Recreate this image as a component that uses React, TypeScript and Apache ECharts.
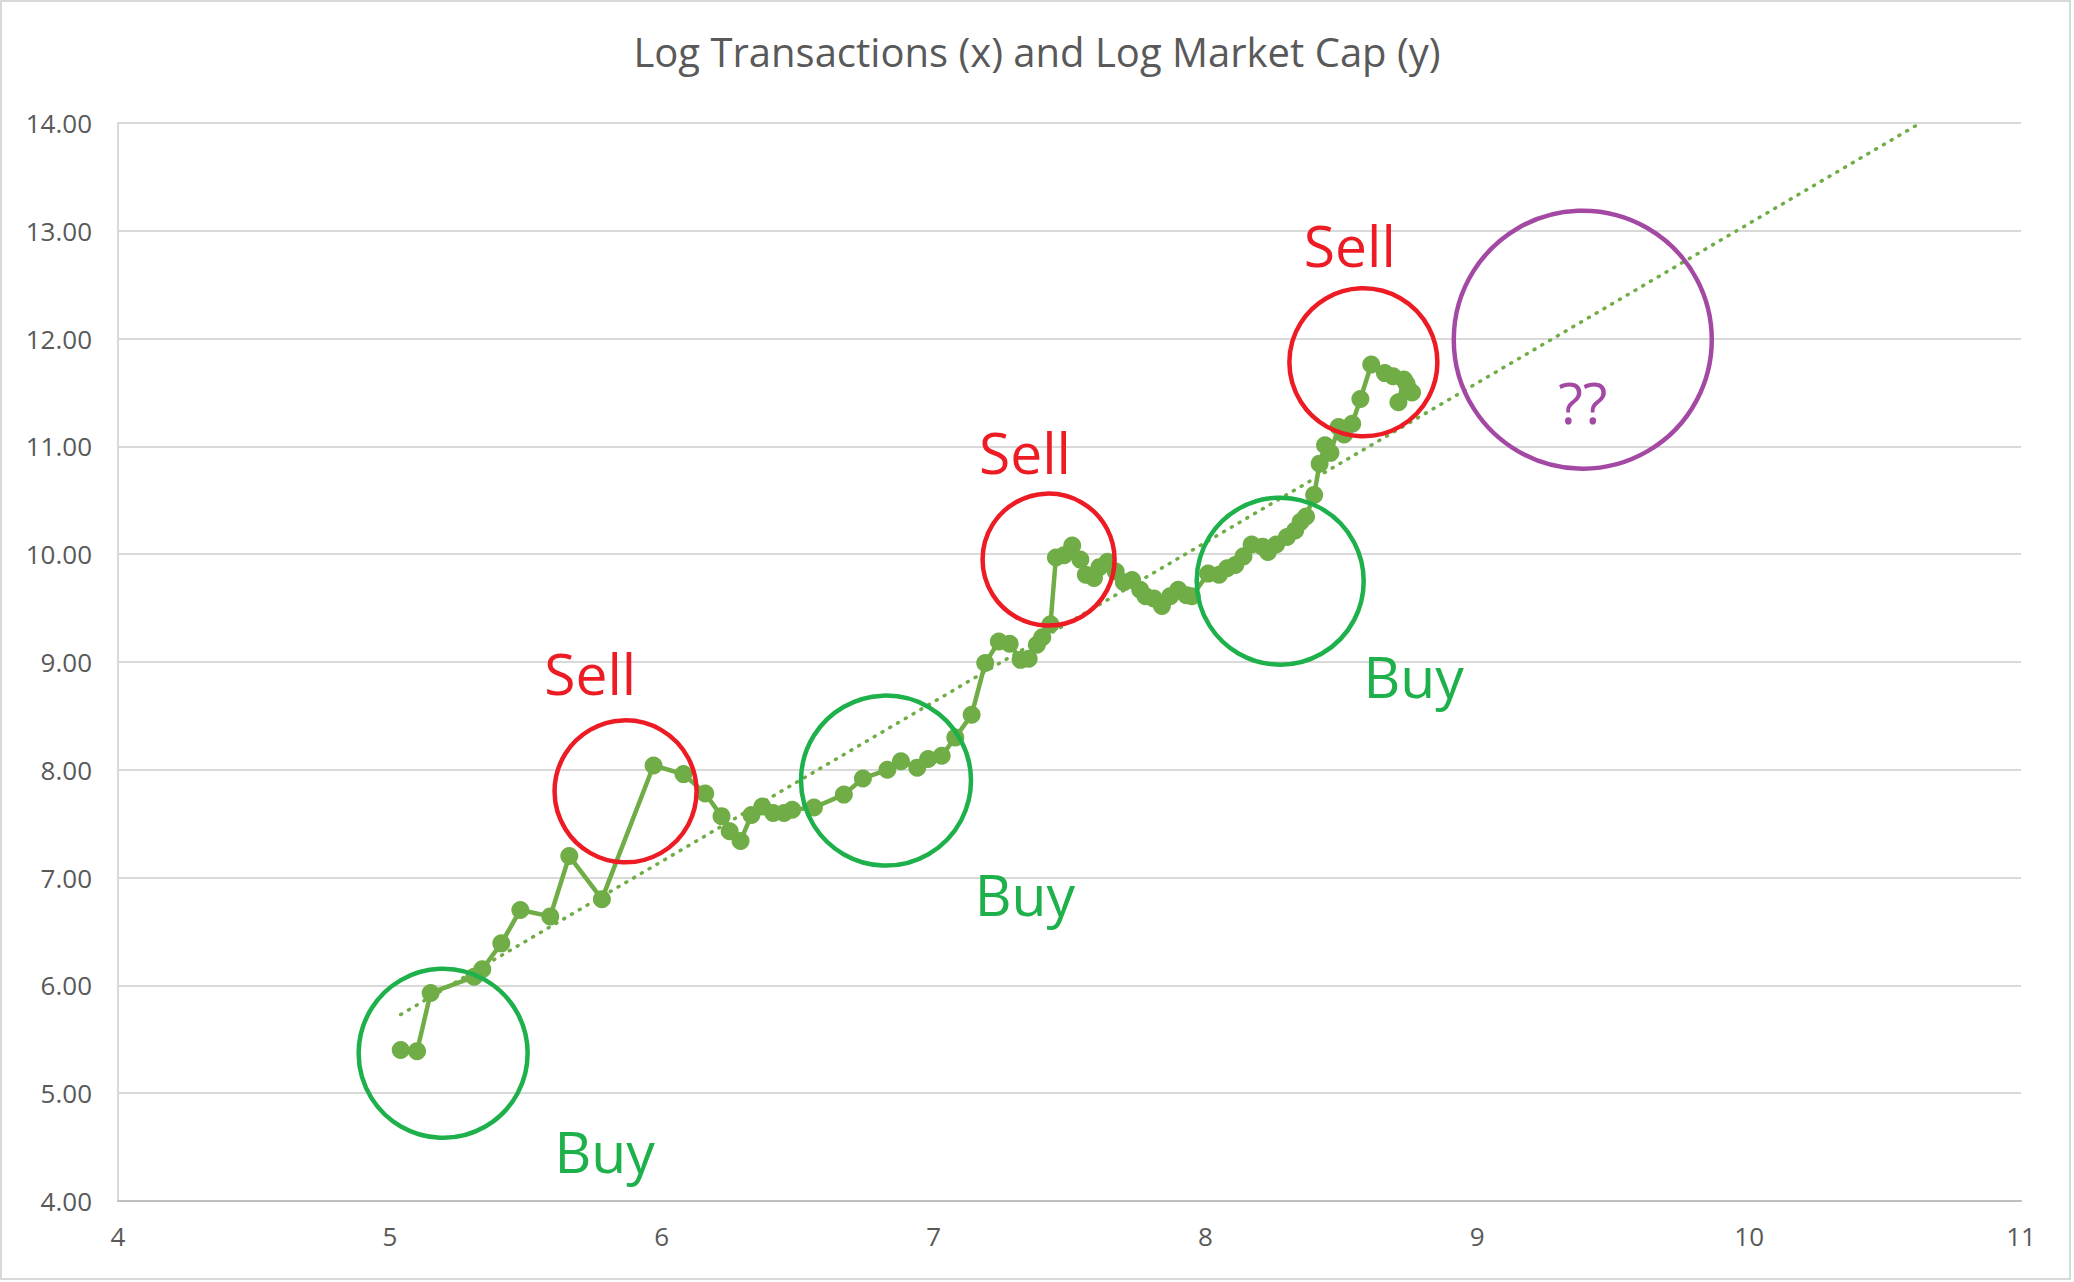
import React, { useEffect, useRef } from "react";
import * as echarts from "echarts";

// ---- Data ----
const logTransactions = [
  5.04, 5.10, 5.15, 5.31, 5.34, 5.41, 5.48, 5.59, 5.66, 5.78,
  5.97, 6.08, 6.16, 6.22, 6.25, 6.29, 6.33, 6.37, 6.41, 6.45,
  6.48, 6.56, 6.67, 6.74, 6.83, 6.88, 6.94, 6.98, 7.03, 7.08,
  7.14, 7.19, 7.24, 7.28, 7.32, 7.35, 7.38, 7.40, 7.43, 7.45,
  7.48, 7.51, 7.54, 7.56, 7.59, 7.61, 7.64, 7.67, 7.70, 7.73,
  7.76, 7.78, 7.81, 7.84, 7.87, 7.90, 7.93, 7.95, 8.01, 8.05,
  8.08, 8.11, 8.14, 8.17, 8.21, 8.23, 8.26, 8.30, 8.33, 8.35,
  8.37, 8.40, 8.42, 8.44, 8.46, 8.49, 8.51, 8.54, 8.57, 8.61,
  8.66, 8.69, 8.73, 8.71, 8.74, 8.76,
];
const logMarketCap = [
  5.40, 5.39, 5.93, 6.08, 6.15, 6.39, 6.70, 6.64, 7.20, 6.80,
  8.04, 7.96, 7.78, 7.57, 7.43, 7.34, 7.58, 7.66, 7.60, 7.60,
  7.63, 7.65, 7.77, 7.92, 8.00, 8.08, 8.02, 8.10, 8.13, 8.30,
  8.51, 8.99, 9.19, 9.17, 9.02, 9.03, 9.16, 9.23, 9.35, 9.97,
  9.99, 10.08, 9.95, 9.81, 9.78, 9.88, 9.93, 9.84, 9.74, 9.76,
  9.67, 9.61, 9.59, 9.52, 9.61, 9.67, 9.62, 9.61, 9.82, 9.81,
  9.87, 9.90, 9.98, 10.09, 10.07, 10.02, 10.09, 10.16, 10.22, 10.30,
  10.35, 10.55, 10.84, 11.01, 10.94, 11.18, 11.11, 11.21, 11.44, 11.76,
  11.68, 11.65, 11.62, 11.41, 11.58, 11.50,
];

// Linear trendline end points (as drawn, extended forward)
const trendX = [5.04, 10.63];
const trendY = [5.73, 14.0];

// Annotation circles (centres in data units)
const circleX = [5.196, 5.867, 6.825, 7.423, 8.275, 8.581, 9.388];
const circleY = [5.37, 7.80, 7.90, 9.95, 9.75, 11.78, 11.99];
const circleKind = ["buy", "sell", "buy", "sell", "buy", "sell", "unknown"];

// Annotation labels
const labelText = ["Sell", "Sell", "Sell", "Buy", "Buy", "Buy", "??"];
const labelX = [5.737, 7.336, 8.531, 5.790, 7.336, 8.766, 9.388];
const labelY = [8.90, 10.95, 12.87, 4.46, 6.85, 8.87, 11.41];
const labelKind = ["sell", "sell", "sell", "buy", "buy", "buy", "unknown"];

// Axis ranges / ticks
const xTicks = [4, 5, 6, 7, 8, 9, 10, 11];
const yTicks = [4, 5, 6, 7, 8, 9, 10, 11, 12, 13, 14];

// ---- Styles ----
const circleDiameterPx = [169, 142, 170, 132, 167, 148, 258];
const kindColor: Record<string, string> = {
  buy: "#1DB04B",
  sell: "#ED1C24",
  unknown: "#A349A4",
};
const SERIES_GREEN = "#70AD47";
const FONT = "'Open Sans', 'Noto Sans', sans-serif";

export default function App() {
  const ref = useRef<HTMLDivElement>(null);

  useEffect(() => {
    document.body.style.margin = "0";
    if (!ref.current) return;
    const chart = echarts.init(ref.current, undefined, { renderer: "svg" });

    const mainData = logTransactions.map((x, i) => [x, logMarketCap[i]]);
    const trendData = trendX.map((x, i) => [x, trendY[i]]);
    const circleData = circleX.map((x, i) => ({
      value: [x, circleY[i]],
      symbolSize: circleDiameterPx[i],
      itemStyle: {
        color: "rgba(0,0,0,0)",
        borderColor: kindColor[circleKind[i]],
        borderWidth: 4.5,
        opacity: 1,
      },
    }));
    const labelData = labelX.map((x, i) => ({
      value: [x, labelY[i]],
      name: labelText[i],
      label: { color: kindColor[labelKind[i]] },
    }));

    chart.setOption({
      animation: false,
      backgroundColor: "#ffffff",
      textStyle: { fontFamily: FONT },
      title: {
        text: "Log Transactions (x) and Log Market Cap (y)",
        left: "center",
        top: 26,
        textStyle: {
          fontFamily: FONT,
          fontSize: 40,
          fontWeight: "normal",
          color: "#595959",
        },
      },
      graphic: [
        {
          type: "rect",
          shape: { x: 1, y: 1, width: 2069, height: 1278 },
          style: { fill: "none", stroke: "#D9D9D9", lineWidth: 2 },
          silent: true,
        },
      ],
      grid: { left: 118, right: 53, top: 123, bottom: 81, containLabel: false },
      xAxis: {
        type: "value",
        min: xTicks[0],
        max: xTicks[xTicks.length - 1],
        interval: 1,
        axisLine: { show: true, lineStyle: { color: "#BFBFBF", width: 2 } },
        axisTick: { show: false },
        splitLine: { show: false },
        axisLabel: {
          fontFamily: FONT,
          fontSize: 26,
          color: "#595959",
          margin: 22,
        },
      },
      yAxis: {
        type: "value",
        min: yTicks[0],
        max: yTicks[yTicks.length - 1],
        interval: 1,
        axisLine: { show: true, lineStyle: { color: "#D9D9D9", width: 2 } },
        axisTick: { show: false },
        splitLine: { show: true, lineStyle: { color: "#D9D9D9", width: 2 } },
        axisLabel: {
          fontFamily: FONT,
          fontSize: 26,
          color: "#595959",
          margin: 26,
          formatter: (v: number) => v.toFixed(2),
        },
      },
      series: [
        {
          type: "line",
          data: mainData,
          symbol: "circle",
          symbolSize: 18,
          lineStyle: { color: SERIES_GREEN, width: 4.5 },
          itemStyle: { color: SERIES_GREEN, opacity: 1 },
          z: 3,
        },
        {
          type: "line",
          data: trendData,
          symbol: "none",
          lineStyle: {
            color: SERIES_GREEN,
            width: 3.5,
            type: [1, 8],
            cap: "round",
          },
          z: 4,
        },
        {
          type: "scatter",
          data: circleData,
          symbol: "circle",
          z: 5,
          silent: true,
          itemStyle: { opacity: 1 },
        },
        {
          type: "scatter",
          data: labelData,
          symbolSize: 0,
          z: 6,
          silent: true,
          itemStyle: { opacity: 1 },
          label: {
            show: true,
            position: "inside",
            opacity: 1,
            formatter: (p: any) => p.name,
            fontFamily: FONT,
            fontSize: 57,
          },
        },
      ],
    });

    return () => chart.dispose();
  }, []);

  return (
    <div
      ref={ref}
      style={{ position: "absolute", left: 0, top: 0, width: 2074, height: 1282 }}
    />
  );
}
